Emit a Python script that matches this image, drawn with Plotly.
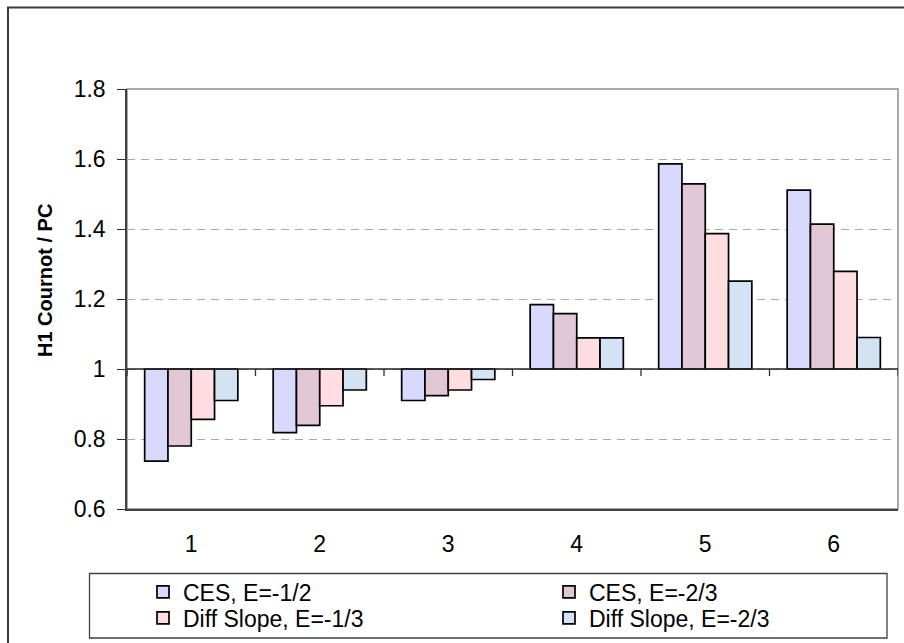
import plotly.graph_objects as go

categories = [1, 2, 3, 4, 5, 6]
series_names = ["CES, E=-1/2", "CES, E=-2/3", "Diff Slope, E=-1/3", "Diff Slope, E=-2/3"]
ces_half = [0.737, 0.818, 0.910, 1.184, 1.586, 1.511]
ces_twothirds = [0.780, 0.839, 0.924, 1.158, 1.529, 1.414]
diff_third = [0.856, 0.895, 0.940, 1.089, 1.387, 1.279]
diff_twothirds = [0.910, 0.940, 0.970, 1.089, 1.251, 1.090]
colors = ["#D9D9FF", "#E2C8D6", "#FFDDE0", "#D3E3F3"]
y_ticks = [0.6, 0.8, 1.0, 1.2, 1.4, 1.6, 1.8]
y_tick_text = ["0.6", "0.8", "1", "1.2", "1.4", "1.6", "1.8"]
y_title = "H1 Cournot / PC"
base_value = 1.0

W, H = 904, 643
L, R, T, B = 127, 6, 89, 134
pw, ph = W - L - R, H - T - B

def px(x):
    return (x - L) / pw

def py(y):
    return (H - B - y) / ph

font_family = "Liberation Sans, Arial, sans-serif"

# legend slot positions (pixel positions of each entry: left, vertical centre)
legend_slots = [(143, 592), (549, 592), (143, 618), (549, 618)]
legend_ids = ["legend", "legend2", "legend3", "legend4"]

fig = go.Figure()
all_series = [ces_half, ces_twothirds, diff_third, diff_twothirds]
for i, (name, vals, col) in enumerate(zip(series_names, all_series, colors)):
    fig.add_trace(go.Bar(
        x=categories,
        y=[v - base_value for v in vals],
        base=base_value,
        name=name,
        legend=legend_ids[i],
        marker=dict(color=col, line=dict(color="#000000", width=1.7)),
        hovertemplate="%{x}: %{customdata}<extra>" + name + "</extra>",
        customdata=vals,
    ))

legend_common = dict(
    font=dict(size=23, family=font_family),
    bgcolor="rgba(0,0,0,0)",
    borderwidth=0,
    xanchor="left",
    yanchor="middle",
    orientation="v",
)
legends = {}
for lid, (lx, ly) in zip(legend_ids, legend_slots):
    legends[lid] = dict(legend_common, x=px(lx), y=py(ly))

shapes = [
    # plot-area border (grey)
    dict(type="rect", xref="paper", yref="paper", x0=0, x1=1, y0=0, y1=1,
         line=dict(color="#909090", width=1.5), layer="below"),
    # outer chart frame
    dict(type="rect", xref="paper", yref="paper",
         x0=px(8), x1=px(915), y0=py(655), y1=py(7.5),
         line=dict(color="#3A3A3A", width=2), layer="below"),
    # legend box
    dict(type="rect", xref="paper", yref="paper",
         x0=px(89.5), x1=px(887), y0=py(638), y1=py(573.5),
         line=dict(color="#404040", width=1.3), layer="below"),
    # category axis line crossing at base value
    dict(type="line", xref="paper", yref="y", x0=0, x1=1, y0=base_value, y1=base_value,
         line=dict(color="#202020", width=1.5), layer="above"),
]
boundaries = [c - 0.5 for c in categories] + [categories[-1] + 0.5]
for bx in boundaries:
    shapes.append(dict(
        type="line", xref="x", yref="y", ysizemode="pixel", yanchor=base_value,
        x0=bx, x1=bx, y0=0, y1=-7,
        line=dict(color="#303030", width=1.3), layer="above",
    ))

fig.update_layout(
    width=W, height=H,
    margin=dict(l=L, r=R, t=T, b=B, pad=0, autoexpand=False),
    paper_bgcolor="white",
    plot_bgcolor="white",
    barmode="group",
    bargap=0.275,
    bargroupgap=0,
    font=dict(family=font_family, color="#000000"),
    showlegend=True,
    xaxis=dict(
        range=[0.5, 6.5],
        tickmode="array",
        tickvals=categories,
        ticktext=[str(c) for c in categories],
        ticks="",
        showline=True, linecolor="#404040", linewidth=1.5,
        showgrid=False, zeroline=False,
        tickfont=dict(size=23),
        ticklabelstandoff=14,
        fixedrange=True,
        automargin=False,
    ),
    yaxis=dict(
        range=[y_ticks[0], y_ticks[-1]],
        tickmode="array",
        tickvals=y_ticks,
        ticktext=y_tick_text,
        ticks="outside", ticklen=8, tickwidth=1.3, tickcolor="#303030",
        showline=True, linecolor="#404040", linewidth=1.5,
        showgrid=True, gridcolor="#A8A8A8", gridwidth=1, griddash="8px,6px",
        zeroline=False,
        tickfont=dict(size=23),
        ticklabelstandoff=7,
        fixedrange=True,
        automargin=False,
    ),
    annotations=[
        dict(text="<b>" + y_title + "</b>", textangle=-90,
             xref="paper", yref="paper", x=px(45), y=py(281),
             xanchor="center", yanchor="middle", showarrow=False,
             font=dict(size=20, family=font_family, color="#000000")),
    ],
    shapes=shapes,
    **legends,
)

fig.write_html(
    "out.html",
    config={"displayModeBar": False},
    post_script="document.body.style.margin='0';document.body.style.overflow='hidden';",
)
